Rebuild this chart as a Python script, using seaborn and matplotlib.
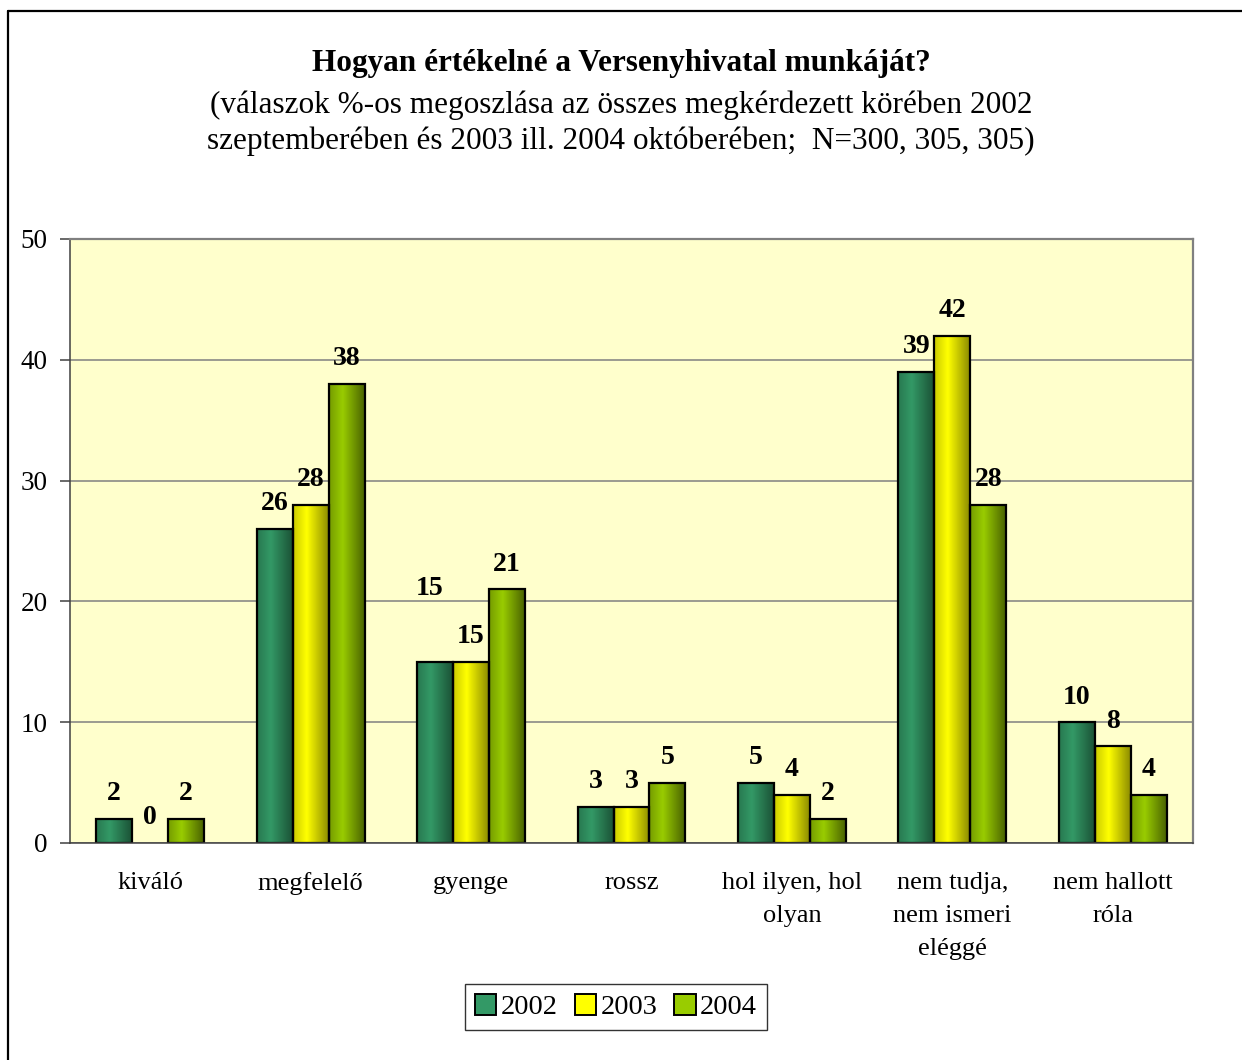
import numpy as np
import pandas as pd
import matplotlib
matplotlib.use("Agg")
import matplotlib.pyplot as plt
import matplotlib.colors as mcolors
from matplotlib.patches import Patch
from matplotlib.lines import Line2D
import seaborn as sns

categories = ["kiváló", "megfelelő", "gyenge", "rossz", "hol ilyen, hol\nolyan",
              "nem tudja,\nnem ismeri\neléggé", "nem hallott\nróla"]
years = ["2002", "2003", "2004"]
values_2002 = [2, 26, 15, 3, 5, 39, 10]
values_2003 = [0, 28, 15, 3, 4, 42, 8]
values_2004 = [2, 38, 21, 5, 2, 28, 4]
y_ticks = [0, 10, 20, 30, 40, 50]

title = "Hogyan értékelné a Versenyhivatal munkáját?"
subtitle = ("(válaszok %-os megoszlása az összes megkérdezett körében 2002\n"
            "szeptemberében és 2003 ill. 2004 októberében;  N=300, 305, 305)")

base_colors = {"2002": "#339966", "2003": "#FFFF00", "2004": "#99CC00"}
dark_colors = {"2002": "#1B5236", "2003": "#8C8C00", "2004": "#4A6300"}

df = pd.DataFrame({
    "kategoria": categories * 3,
    "ev": [y for y in years for _ in categories],
    "ertek": values_2002 + values_2003 + values_2004,
})

sns.set_theme(style="white")
plt.rcParams["font.family"] = ["Liberation Serif", "DejaVu Serif"]
for key in ["text.color", "axes.labelcolor", "xtick.labelcolor", "ytick.labelcolor"]:
    plt.rcParams[key] = "black"

fig = plt.figure(figsize=(12.42, 10.6), dpi=100)
W, H = 1242, 1060
ax = fig.add_axes([70 / W, 1 - 843 / H, (1193 - 70) / W, (843 - 239) / H])
ax.set_facecolor("#FFFFCC")

sns.barplot(data=df, x="kategoria", y="ertek", hue="ev", hue_order=years,
            order=categories, palette=base_colors, width=0.673, gap=0,
            edgecolor="black", linewidth=1.6, legend=False, ax=ax, zorder=3)

# gradient shading on bars
for yr, cont in zip(years, ax.containers):
    dark = np.array(mcolors.to_rgb(dark_colors[yr]))
    base = np.array(mcolors.to_rgb(base_colors[yr]))
    cmap = mcolors.LinearSegmentedColormap.from_list(
        "g" + yr, [(0.0, 0.45 * dark + 0.55 * base), (0.38, base), (1.0, dark)])
    for patch in cont.patches:
        h = patch.get_height()
        if h <= 0:
            patch.set_visible(False)
            continue
        x0 = patch.get_x()
        w = patch.get_width()
        grad = np.linspace(0, 1, 64).reshape(1, -1)
        im = ax.imshow(grad, extent=[x0, x0 + w, 0, h], aspect="auto",
                       cmap=cmap, zorder=2.9, interpolation="bicubic")
        im.set_clip_path(patch)
        patch.set_facecolor("none")

# data labels
label_extra = {("gyenge", "2002"): (-5, 48)}
for yr, cont in zip(years, ax.containers):
    for cat, patch, v in zip(categories, cont.patches,
                             df.loc[df.ev == yr, "ertek"]):
        dx, dy = label_extra.get((cat, yr), (0, 0))
        cx = patch.get_x() + patch.get_width() / 2
        ax.annotate(f"{v:g}", xy=(cx, v), xytext=(dx * 0.72, (25 + dy) * 0.72),
                    textcoords="offset points", ha="center", va="center",
                    fontsize=20, fontweight="bold", color="black", zorder=5)

ax.set_xlim(-0.5, len(categories) - 0.5)
ax.set_ylim(0, 50)
ax.set_yticks(y_ticks)
ax.set_yticklabels([str(t) for t in y_ticks], fontsize=19.5)
ax.set_xlabel("")
ax.set_ylabel("")
ax.grid(axis="y", color="#808080", linewidth=1.1, zorder=1)
ax.grid(axis="x", visible=False)
ax.set_axisbelow(True)

# x ticks at category boundaries, labels centered
ax.set_xticks(np.arange(len(categories)))
ax.set_xticklabels(categories, fontsize=19, linespacing=1.63, va="top")
ax.tick_params(axis="x", length=0, pad=21)
ax.set_xticks(np.arange(-0.5, len(categories), 1.0), minor=True)
ax.tick_params(axis="x", which="minor", length=8, width=1.1, color="#404040", direction="out")
ax.tick_params(axis="y", length=7, width=1.1, color="#404040", direction="out", pad=9, left=True)

for side in ["top", "right"]:
    ax.spines[side].set_color("#808080")
    ax.spines[side].set_linewidth(1.6)
for side in ["left", "bottom"]:
    ax.spines[side].set_color("#404040")
    ax.spines[side].set_linewidth(1.1)
ax.spines["bottom"].set_zorder(6)

# titles
fig.text(0.5, 1 - 63 / H, title, ha="center", va="center", fontsize=22.5, fontweight="bold")
fig.text(0.5, 1 - 123 / H, subtitle, ha="center", va="center", fontsize=22.5, linespacing=1.3)

# legend
handles = [Patch(facecolor=base_colors[y], edgecolor="black", linewidth=1.4, label=y) for y in years]
leg = fig.legend(handles=handles, loc="center", bbox_to_anchor=(616 / W, 1 - 1007 / H),
                 ncol=3, fontsize=20.5, frameon=True, fancybox=False, handlelength=0.75,
                 handleheight=0.75, handletextpad=0.15, columnspacing=0.6, borderpad=0.35,
                 borderaxespad=0)
leg.get_frame().set_edgecolor("black")
leg.get_frame().set_linewidth(1.0)

# outer chart border (left and top)
fig.add_artist(Line2D([8 / W, 8 / W], [0, 1 - 11 / H], color="black", linewidth=1.6,
                      transform=fig.transFigure))
fig.add_artist(Line2D([8 / W, 1], [1 - 11 / H, 1 - 11 / H], color="black", linewidth=1.6,
                      transform=fig.transFigure))

fig.savefig("out.png", dpi=100, facecolor="white")
